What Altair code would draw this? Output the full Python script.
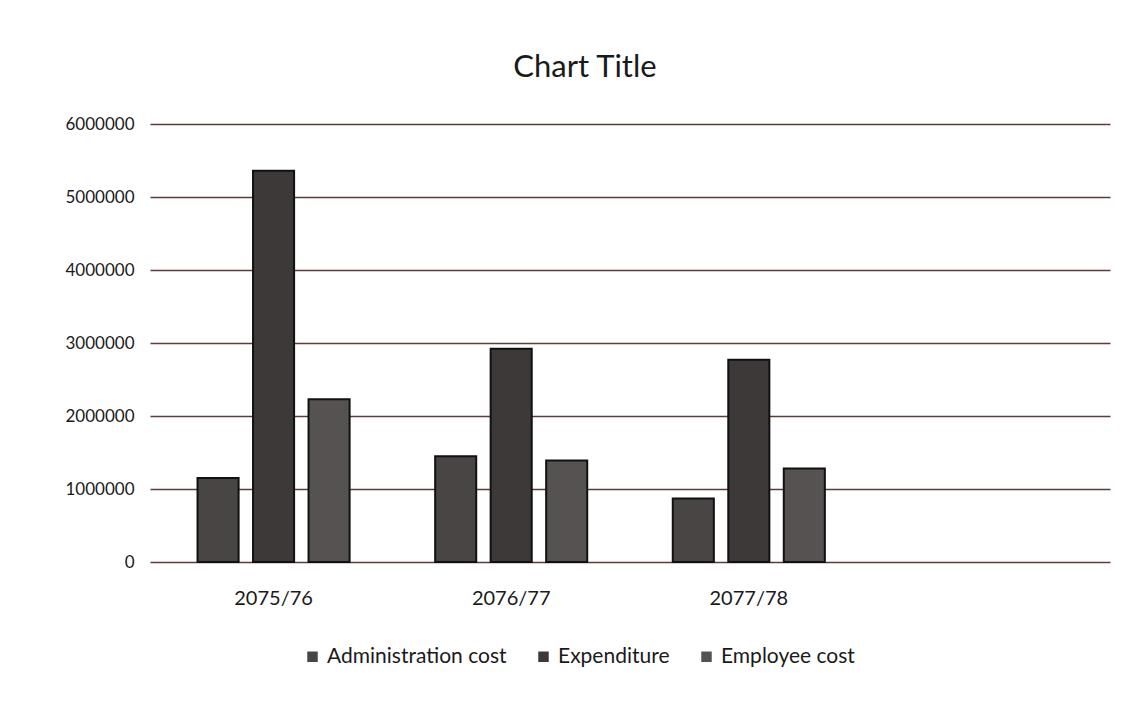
import altair as alt
import pandas as pd

years = ["2075/76", "2076/77", "2077/78"]
x_domain = years + [" "]  # the reference keeps a fourth, empty category slot
series = ["Administration cost", "Expenditure", "Employee cost"]
admin_cost = [1150000, 1450000, 870000]
expenditure = [5360000, 2920000, 2770000]
employee_cost = [2230000, 1390000, 1280000]
y_ticks = [0, 1000000, 2000000, 3000000, 4000000, 5000000, 6000000]
fills = ["#4a4545", "#3d3939", "#575252"]

rows = []
for name, vals in zip(series, [admin_cost, expenditure, employee_cost]):
    for yr, v in zip(years, vals):
        rows.append({"Year": yr, "Series": name, "Value": v})
df = pd.DataFrame(rows)

FONT = "Lato"

chart = (
    alt.Chart(df)
    .mark_bar(stroke="#111111", strokeWidth=2)
    .encode(
        x=alt.X(
            "Year:N",
            scale=alt.Scale(domain=x_domain, paddingInner=0.36, paddingOuter=0.2),
            axis=alt.Axis(
                title=None, labelAngle=0, ticks=False, domain=False,
                labelFontSize=20, labelPadding=26, labelColor="#1a1a1a", labelFont=FONT,
            ),
        ),
        xOffset=alt.XOffset(
            "Series:N",
            sort=series,
            scale=alt.Scale(paddingInner=0.26, paddingOuter=0),
        ),
        y=alt.Y(
            "Value:Q",
            scale=alt.Scale(domain=[0, 6000000], nice=False),
            axis=alt.Axis(
                title=None, values=y_ticks, format="d", ticks=False, domain=False,
                labelFontSize=17, labelPadding=16, labelColor="#1a1a1a", labelFont=FONT,
                grid=True, gridColor="#5c3b3b", gridWidth=1.3,
            ),
        ),
        color=alt.Color(
            "Series:N",
            sort=series,
            scale=alt.Scale(domain=series, range=fills),
            legend=alt.Legend(
                title=None, orient="none", direction="horizontal",
                legendX=152, legendY=522,
                symbolType="square", symbolSize=110, symbolStrokeWidth=0,
                labelFontSize=21, labelFont=FONT, labelColor="#1a1a1a",
                labelLimit=400, columnPadding=26,
            ),
        ),
    )
    .properties(
        width=960,
        height=438,
        title=alt.TitleParams(
            "Chart Title", fontSize=31, font=FONT, fontWeight="normal",
            color="#1a1a1a", offset=31, anchor="middle", dx=-45,
        ),
        padding={"left": 56, "top": 44, "right": 10, "bottom": 10},
    )
    .configure(background="white", view=alt.ViewConfig(stroke="transparent"))
)

chart.save("out.html", embed_options={"renderer": "svg", "actions": False})
